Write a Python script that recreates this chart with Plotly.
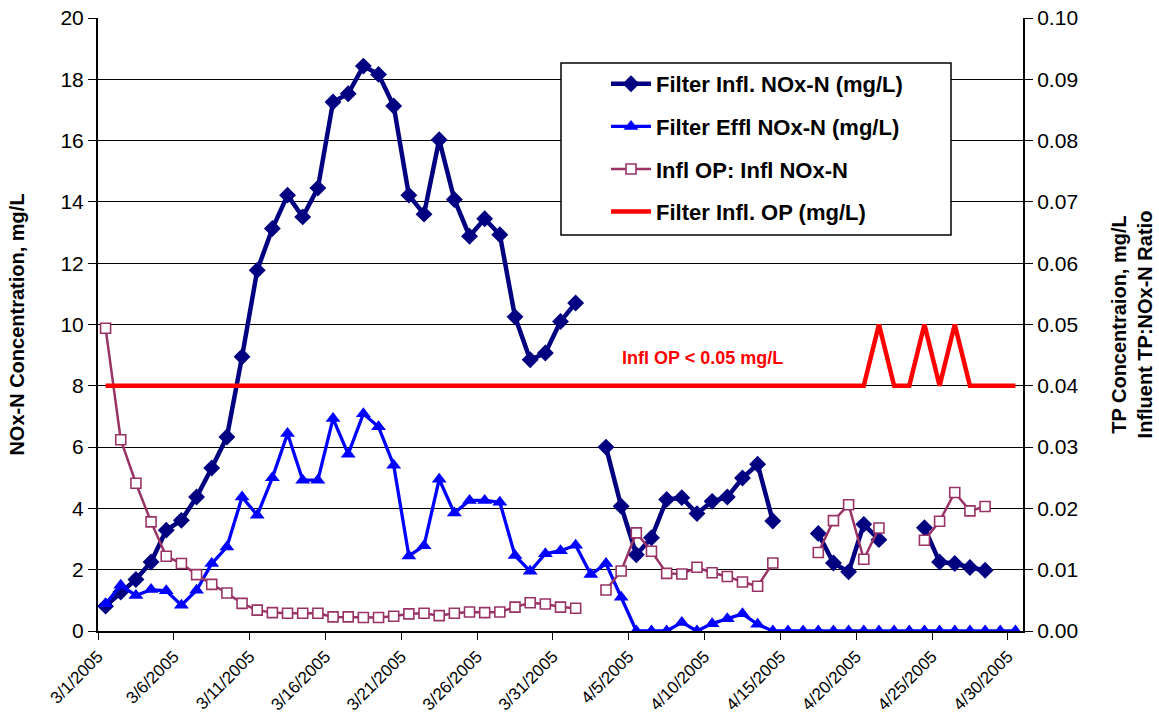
import pandas as pd
import plotly.graph_objects as go

# ---------------- data ----------------
start_date = "2005-03-01"
end_date = "2005-04-30"

infl_nox = [0.81, 1.27, 1.68, 2.25, 3.29, 3.61, 4.37, 5.32, 6.33, 8.95,
            11.77, 13.13, 14.22, 13.51, 14.45, 17.26, 17.53, 18.43, 18.16, 17.13,
            14.22, 13.60, 16.03, 14.08, 12.88, 13.45, 12.93, 10.25, 8.85, 9.07,
            10.10, 10.70, None, 6.00, 4.07, 2.49, 3.04, 4.29, 4.35, 3.83,
            4.23, 4.37, 4.99, 5.44, 3.59, None, None, 3.18, 2.22, 1.93,
            3.48, 2.98, None, None, 3.37, 2.25, 2.20, 2.07, 1.98, None, None]

effl_nox = [0.89, 1.49, 1.16, 1.35, 1.31, 0.84, 1.33, 2.20, 2.74, 4.37,
            3.78, 5.00, 6.44, 4.92, 4.92, 6.93, 5.77, 7.09, 6.66, 5.41,
            2.45, 2.78, 4.95, 3.85, 4.26, 4.26, 4.20, 2.46, 1.95, 2.52,
            2.62, 2.80, 1.84, 2.20, 1.10, 0.0, 0.0, 0.0, 0.28, 0.0,
            0.24, 0.40, 0.56, 0.22, 0.0, 0.0, 0.0, 0.0, 0.0, 0.0,
            0.0, 0.0, 0.0, 0.0, 0.0, 0.0, 0.0, 0.0, 0.0, 0.0, 0.0]

op_nox_ratio = [0.0494, 0.0312, 0.0241, 0.0178, 0.0122, 0.0110, 0.0092, 0.0076, 0.0062, 0.0045,
                0.0034, 0.0030, 0.0029, 0.0029, 0.0029, 0.0023, 0.0023, 0.0022, 0.0022, 0.0024,
                0.0028, 0.0029, 0.0025, 0.0029, 0.0031, 0.0030, 0.0031, 0.0039, 0.0046, 0.0044,
                0.0039, 0.0037, None, 0.0067, 0.0098, 0.0160, 0.0130, 0.0094, 0.0093, 0.0104,
                0.0095, 0.0089, 0.0080, 0.0073, 0.0111, None, None, 0.0128, 0.0180, 0.0206,
                0.0117, 0.0168, None, None, 0.0148, 0.0179, 0.0226, 0.0196, 0.0203, None, None]

infl_op = [0.04] * 51 + [0.05, 0.04, 0.04, 0.05, 0.04, 0.05] + [0.04] * 4

tick_labels = ["3/1/2005", "3/6/2005", "3/11/2005", "3/16/2005", "3/21/2005",
               "3/26/2005", "3/31/2005", "4/5/2005", "4/10/2005", "4/15/2005",
               "4/20/2005", "4/25/2005", "4/30/2005"]

# ---------------- build ----------------
days = pd.date_range(start_date, end_date, freq="D")
x_pts = days + pd.Timedelta(hours=12)          # Excel-style: points centred between day ticks
tick_vals = pd.date_range(start_date, end_date, freq="5D")

NAVY = "#000080"
BLUE = "#0000FF"
PLUM = "#993366"
RED = "#FF0000"
FONT = "Arial, Liberation Sans, sans-serif"

fig = go.Figure()

fig.add_trace(go.Scatter(
    x=x_pts, y=infl_nox, name="<b>Filter Infl. NOx-N (mg/L)</b>",
    mode="lines+markers", connectgaps=False, legendgroup="a",
    line=dict(color=NAVY, width=4.5),
    marker=dict(symbol="diamond", size=13, color=NAVY)))

fig.add_trace(go.Scatter(
    x=x_pts, y=effl_nox, name="<b>Filter Effl NOx-N (mg/L)</b>",
    mode="lines+markers", connectgaps=False, legendgroup="b",
    line=dict(color=BLUE, width=3.3),
    marker=dict(symbol="triangle-up", size=13, color=BLUE)))

fig.add_trace(go.Scatter(
    x=x_pts, y=op_nox_ratio, name="<b>Infl OP: Infl NOx-N</b>", yaxis="y2",
    mode="lines+markers", connectgaps=False, legendgroup="c",
    line=dict(color=PLUM, width=2.5),
    marker=dict(symbol="square", size=10, color="white", line=dict(color=PLUM, width=1.6))))

fig.add_trace(go.Scatter(
    x=x_pts, y=infl_op, name="<b>Filter Infl. OP (mg/L)</b>", yaxis="y2",
    mode="lines", legendgroup="d",
    line=dict(color=RED, width=4.5)))

# plot-area geometry (pixels)
W, H = 1159, 713
L, R, T, B = 98, 1023, 18, 631
pw, ph = R - L, B - T

def px_x(p):
    return (p - L) / pw

def px_y(p):
    return (B - p) / ph

fig.update_layout(
    width=W, height=H,
    margin=dict(l=L, r=W - R, t=T, b=H - B, pad=0),
    paper_bgcolor="white", plot_bgcolor="white",
    font=dict(family=FONT, color="black"),
    showlegend=True,
    legend=dict(
        x=px_x(606), y=px_y(63), xanchor="left", yanchor="top",
        bgcolor="rgba(0,0,0,0)", borderwidth=0,
        font=dict(family=FONT, size=22, color="black"),
        tracegroupgap=11, itemwidth=40),
    xaxis=dict(
        type="date", automargin=False,
        range=[days[0], days[-1] + pd.Timedelta(days=1)],
        tickmode="array", tickvals=tick_vals, ticktext=tick_labels,
        tickangle=-45, tickfont=dict(family=FONT, size=17, color="black"),
        ticks="outside", ticklen=7, tickcolor="black", tickwidth=1,
        showline=True, linecolor="black", linewidth=2,
        showgrid=False, zeroline=False),
    yaxis=dict(
        range=[0, 20], dtick=2, tick0=0, automargin=False,
        tickfont=dict(family=FONT, size=21, color="black"),
        ticks="outside", ticklen=8, tickcolor="black", tickwidth=1,
        showline=True, linecolor="black", linewidth=2,
        showgrid=True, gridcolor="black", gridwidth=1, zeroline=False,
        title=dict(text="<b>NOx-N Concentration, mg/L</b>",
                   font=dict(family=FONT, size=20, color="black"), standoff=30)),
    yaxis2=dict(
        overlaying="y", side="right", automargin=False,
        range=[0, 0.10], dtick=0.01, tick0=0, tickformat=".2f",
        tickfont=dict(family=FONT, size=21, color="black"),
        ticks="outside", ticklen=8, tickcolor="black", tickwidth=1,
        showline=True, linecolor="black", linewidth=2,
        showgrid=False, zeroline=False,
        title=dict(text="<b>TP Concentraion, mg/L<br>Influent TP:NOx-N Ratio</b>",
                   font=dict(family=FONT, size=20, color="black"), standoff=35)),
    shapes=[dict(
        type="rect", xref="paper", yref="paper",
        x0=px_x(561), x1=px_x(951), y0=px_y(235), y1=px_y(63),
        line=dict(color="black", width=1.5), fillcolor="white", layer="above")],
    annotations=[dict(
        text="<b>Infl OP < 0.05 mg/L</b>", xref="paper", yref="paper",
        x=px_x(702), y=px_y(358), xanchor="center", yanchor="middle",
        showarrow=False, font=dict(family=FONT, size=18, color=RED))],
)

fig.write_html("out.html")
